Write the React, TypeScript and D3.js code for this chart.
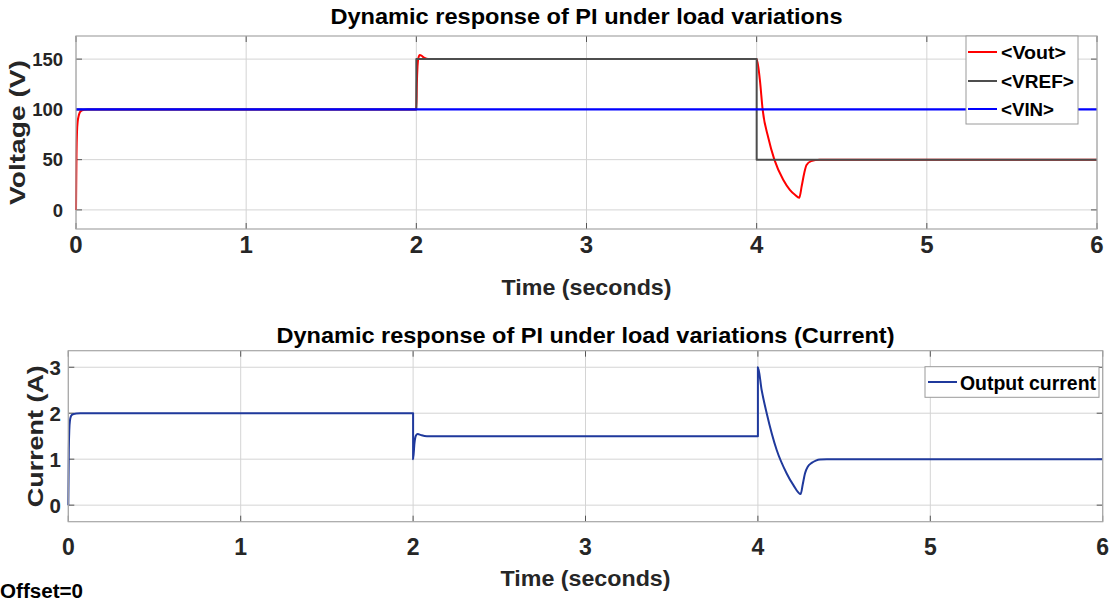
import React from "react";
import * as d3 from "d3";

// ---------- data ----------
const xTicks = [0, 1, 2, 3, 4, 5, 6];
const vTicks = [0, 50, 100, 150];
const iTicks = [0, 1, 2, 3];

const voutT = [0, 0.003, 0.006, 0.01, 0.015, 0.02, 0.03, 0.045, 0.07, 2.0, 2.003, 2.007, 2.012, 2.02, 2.03, 2.045, 2.06, 2.08, 2.1, 4.0, 4.019, 4.035, 4.068, 4.104, 4.156, 4.195, 4.225, 4.25, 4.265, 4.28, 4.293, 4.32, 4.37, 6.0];
const voutV = [0, 55, 78, 88, 93, 96, 98.5, 99.5, 100, 100, 125, 143, 151, 154, 153.5, 151.5, 150.5, 150.1, 150, 150, 129, 100, 72, 50, 30, 20, 15, 12, 24, 37, 44.7, 48.5, 50, 50];

const vrefT = [0, 2.0, 2.0, 4.0, 4.0, 6.0];
const vrefV = [100, 100, 150, 150, 50, 50];

const vinT = [0, 6.0];
const vinV = [100, 100];

const curT = [0, 0.003, 0.006, 0.01, 0.015, 0.02, 0.03, 0.045, 0.07, 2.0, 2.0, 2.008, 2.015, 2.025, 2.035, 2.05, 2.08, 4.0, 4.0, 4.022, 4.051, 4.109, 4.167, 4.205, 4.248, 4.26, 4.273, 4.29, 4.312, 4.336, 4.36, 4.4, 6.0];
const curV = [0, 1.2, 1.65, 1.85, 1.93, 1.96, 1.98, 1.995, 2.0, 2.0, 1.0, 1.35, 1.5, 1.55, 1.54, 1.52, 1.5, 1.5, 3.0, 2.5, 2.0, 1.2, 0.69, 0.44, 0.24, 0.45, 0.69, 0.84, 0.92, 0.97, 0.995, 1.0, 1.0];

const FONT = "'Liberation Sans', Arial, Helvetica, sans-serif";
const TXT = "#262626";

type Series = { t: number[]; v: number[]; color: string; width: number; smooth: boolean };

function Panel(props: {
  left: number; right: number; top: number; bottom: number;
  yDomain: [number, number]; yTicks: number[];
  series: Series[];
  title: string; titleY: number; titleLen: number; titleSize: number;
  ylabel: string; ylabelX: number; ylabelLen: number;
  yTickX: number; yTickSize: number;
  xTickY: number; xTickSize: number;
  xlabelY: number;
}) {
  const p = props;
  const x = d3.scaleLinear().domain([0, 6]).range([p.left, p.right]);
  const y = d3.scaleLinear().domain(p.yDomain).range([p.bottom, p.top]);
  const cx = (p.left + p.right) / 2;
  const cy = (p.top + p.bottom) / 2;
  return (
    <g>
      <rect x={p.left} y={p.top} width={p.right - p.left} height={p.bottom - p.top} fill="#fff" />
      {xTicks.map((t) => (
        <line key={"gx" + t} x1={x(t)} x2={x(t)} y1={p.top} y2={p.bottom} stroke="#d4d4d4" strokeWidth={1} />
      ))}
      {p.yTicks.map((t) => (
        <line key={"gy" + t} x1={p.left} x2={p.right} y1={y(t)} y2={y(t)} stroke="#d4d4d4" strokeWidth={1} />
      ))}
      {xTicks.map((t) => (
        <g key={"tx" + t}>
          <line x1={x(t)} x2={x(t)} y1={p.bottom} y2={p.bottom - 6} stroke="#555" />
          <line x1={x(t)} x2={x(t)} y1={p.top} y2={p.top + 6} stroke="#555" />
        </g>
      ))}
      {p.yTicks.map((t) => (
        <g key={"ty" + t}>
          <line x1={p.left} x2={p.left + 6} y1={y(t)} y2={y(t)} stroke="#555" />
          <line x1={p.right} x2={p.right - 6} y1={y(t)} y2={y(t)} stroke="#555" />
        </g>
      ))}
      {p.series.map((s, i) => {
        const pts: [number, number][] = s.t.map((t, k) => [t, s.v[k]]);
        const gen = d3.line<[number, number]>().x((d) => x(d[0])).y((d) => y(d[1]))
          .curve(s.smooth ? d3.curveMonotoneX : d3.curveLinear);
        return <path key={i} d={gen(pts) || ""} fill="none" stroke={s.color} strokeWidth={s.width} strokeLinejoin="round" />;
      })}
      <rect x={p.left} y={p.top} width={p.right - p.left} height={p.bottom - p.top} fill="none" stroke="#a6a6a6" strokeWidth={1.2} />
      {xTicks.map((t) => (
        <text key={"lx" + t} x={x(t)} y={p.xTickY} textAnchor="middle" fontFamily={FONT} fontWeight="bold" fontSize={p.xTickSize} fill={TXT}>{t}</text>
      ))}
      {p.yTicks.map((t) => (
        <text key={"ly" + t} x={p.yTickX} y={y(t)} dy="0.36em" textAnchor="end" fontFamily={FONT} fontWeight="bold" fontSize={p.yTickSize} fill={TXT}>{t}</text>
      ))}
      <text x={cx} y={p.titleY} textAnchor="middle" fontFamily={FONT} fontWeight="bold" fontSize={p.titleSize} fill="#000" textLength={p.titleLen} lengthAdjust="spacingAndGlyphs">{p.title}</text>
      <text x={cx} y={p.xlabelY} textAnchor="middle" fontFamily={FONT} fontWeight="bold" fontSize={22} fill={TXT} textLength={170} lengthAdjust="spacingAndGlyphs">Time (seconds)</text>
      <text transform={`translate(${p.ylabelX},${cy}) rotate(-90)`} textAnchor="middle" fontFamily={FONT} fontWeight="bold" fontSize={22} fill={TXT} textLength={p.ylabelLen} lengthAdjust="spacingAndGlyphs">{p.ylabel}</text>
    </g>
  );
}

export default function App() {
  const top: Series[] = [
    { t: voutT, v: voutV, color: "#ff0000", width: 2, smooth: true },
    { t: vrefT, v: vrefV, color: "#4d4d4d", width: 2, smooth: false },
    { t: vinT, v: vinV, color: "#0000ff", width: 2.2, smooth: false },
  ];
  const bottom: Series[] = [{ t: curT, v: curV, color: "#1f399c", width: 2, smooth: true }];
  const legTop = [
    { label: "<Vout>", color: "#ff0000", y: 52, len: 65 },
    { label: "<VREF>", color: "#4d4d4d", y: 81, len: 73 },
    { label: "<VIN>", color: "#0000ff", y: 109, len: 53 },
  ];
  return (
    <svg width={1112} height={611} style={{ position: "absolute", left: 0, top: 0, background: "#fff" }}>
      <Panel left={76} right={1097} top={36} bottom={229} yDomain={[-19, 173]} yTicks={vTicks}
        series={top} title="Dynamic response of PI under load variations" titleY={24} titleLen={512} titleSize={22}
        ylabel="Voltage (V)" ylabelX={25} ylabelLen={145} yTickX={63} yTickSize={18.5}
        xTickY={253} xTickSize={24} xlabelY={295} />
      <Panel left={68.3} right={1102.7} top={350.7} bottom={521.7} yDomain={[-0.36, 3.36]} yTicks={iTicks}
        series={bottom} title="Dynamic response of PI under load variations (Current)" titleY={343} titleLen={618} titleSize={22}
        ylabel="Current (A)" ylabelX={43} ylabelLen={142} yTickX={61} yTickSize={20.5}
        xTickY={555} xTickSize={23} xlabelY={586} />
      {/* top legend */}
      <rect x={966} y={36} width={112} height={88} fill="#fff" stroke="#9a9a9a" strokeWidth={1} />
      {legTop.map((l) => (
        <g key={l.label}>
          <line x1={968} x2={997} y1={l.y} y2={l.y} stroke={l.color} strokeWidth={2} />
          <text x={1001} y={l.y} dy="0.36em" fontFamily={FONT} fontWeight="bold" fontSize={19} fill="#000" textLength={l.len} lengthAdjust="spacingAndGlyphs">{l.label}</text>
        </g>
      ))}
      {/* bottom legend */}
      <rect x={925} y={366.7} width={174} height={30.6} fill="#fff" stroke="#9a9a9a" strokeWidth={1} />
      <line x1={928} x2={957} y1={382} y2={382} stroke="#1f399c" strokeWidth={2} />
      <text x={960} y={390} fontFamily={FONT} fontWeight="bold" fontSize={20} fill="#000" textLength={136} lengthAdjust="spacingAndGlyphs">Output current</text>
      <text x={0} y={598} fontFamily={FONT} fontWeight="bold" fontSize={20} fill="#000" textLength={83} lengthAdjust="spacingAndGlyphs">Offset=0</text>
    </svg>
  );
}
